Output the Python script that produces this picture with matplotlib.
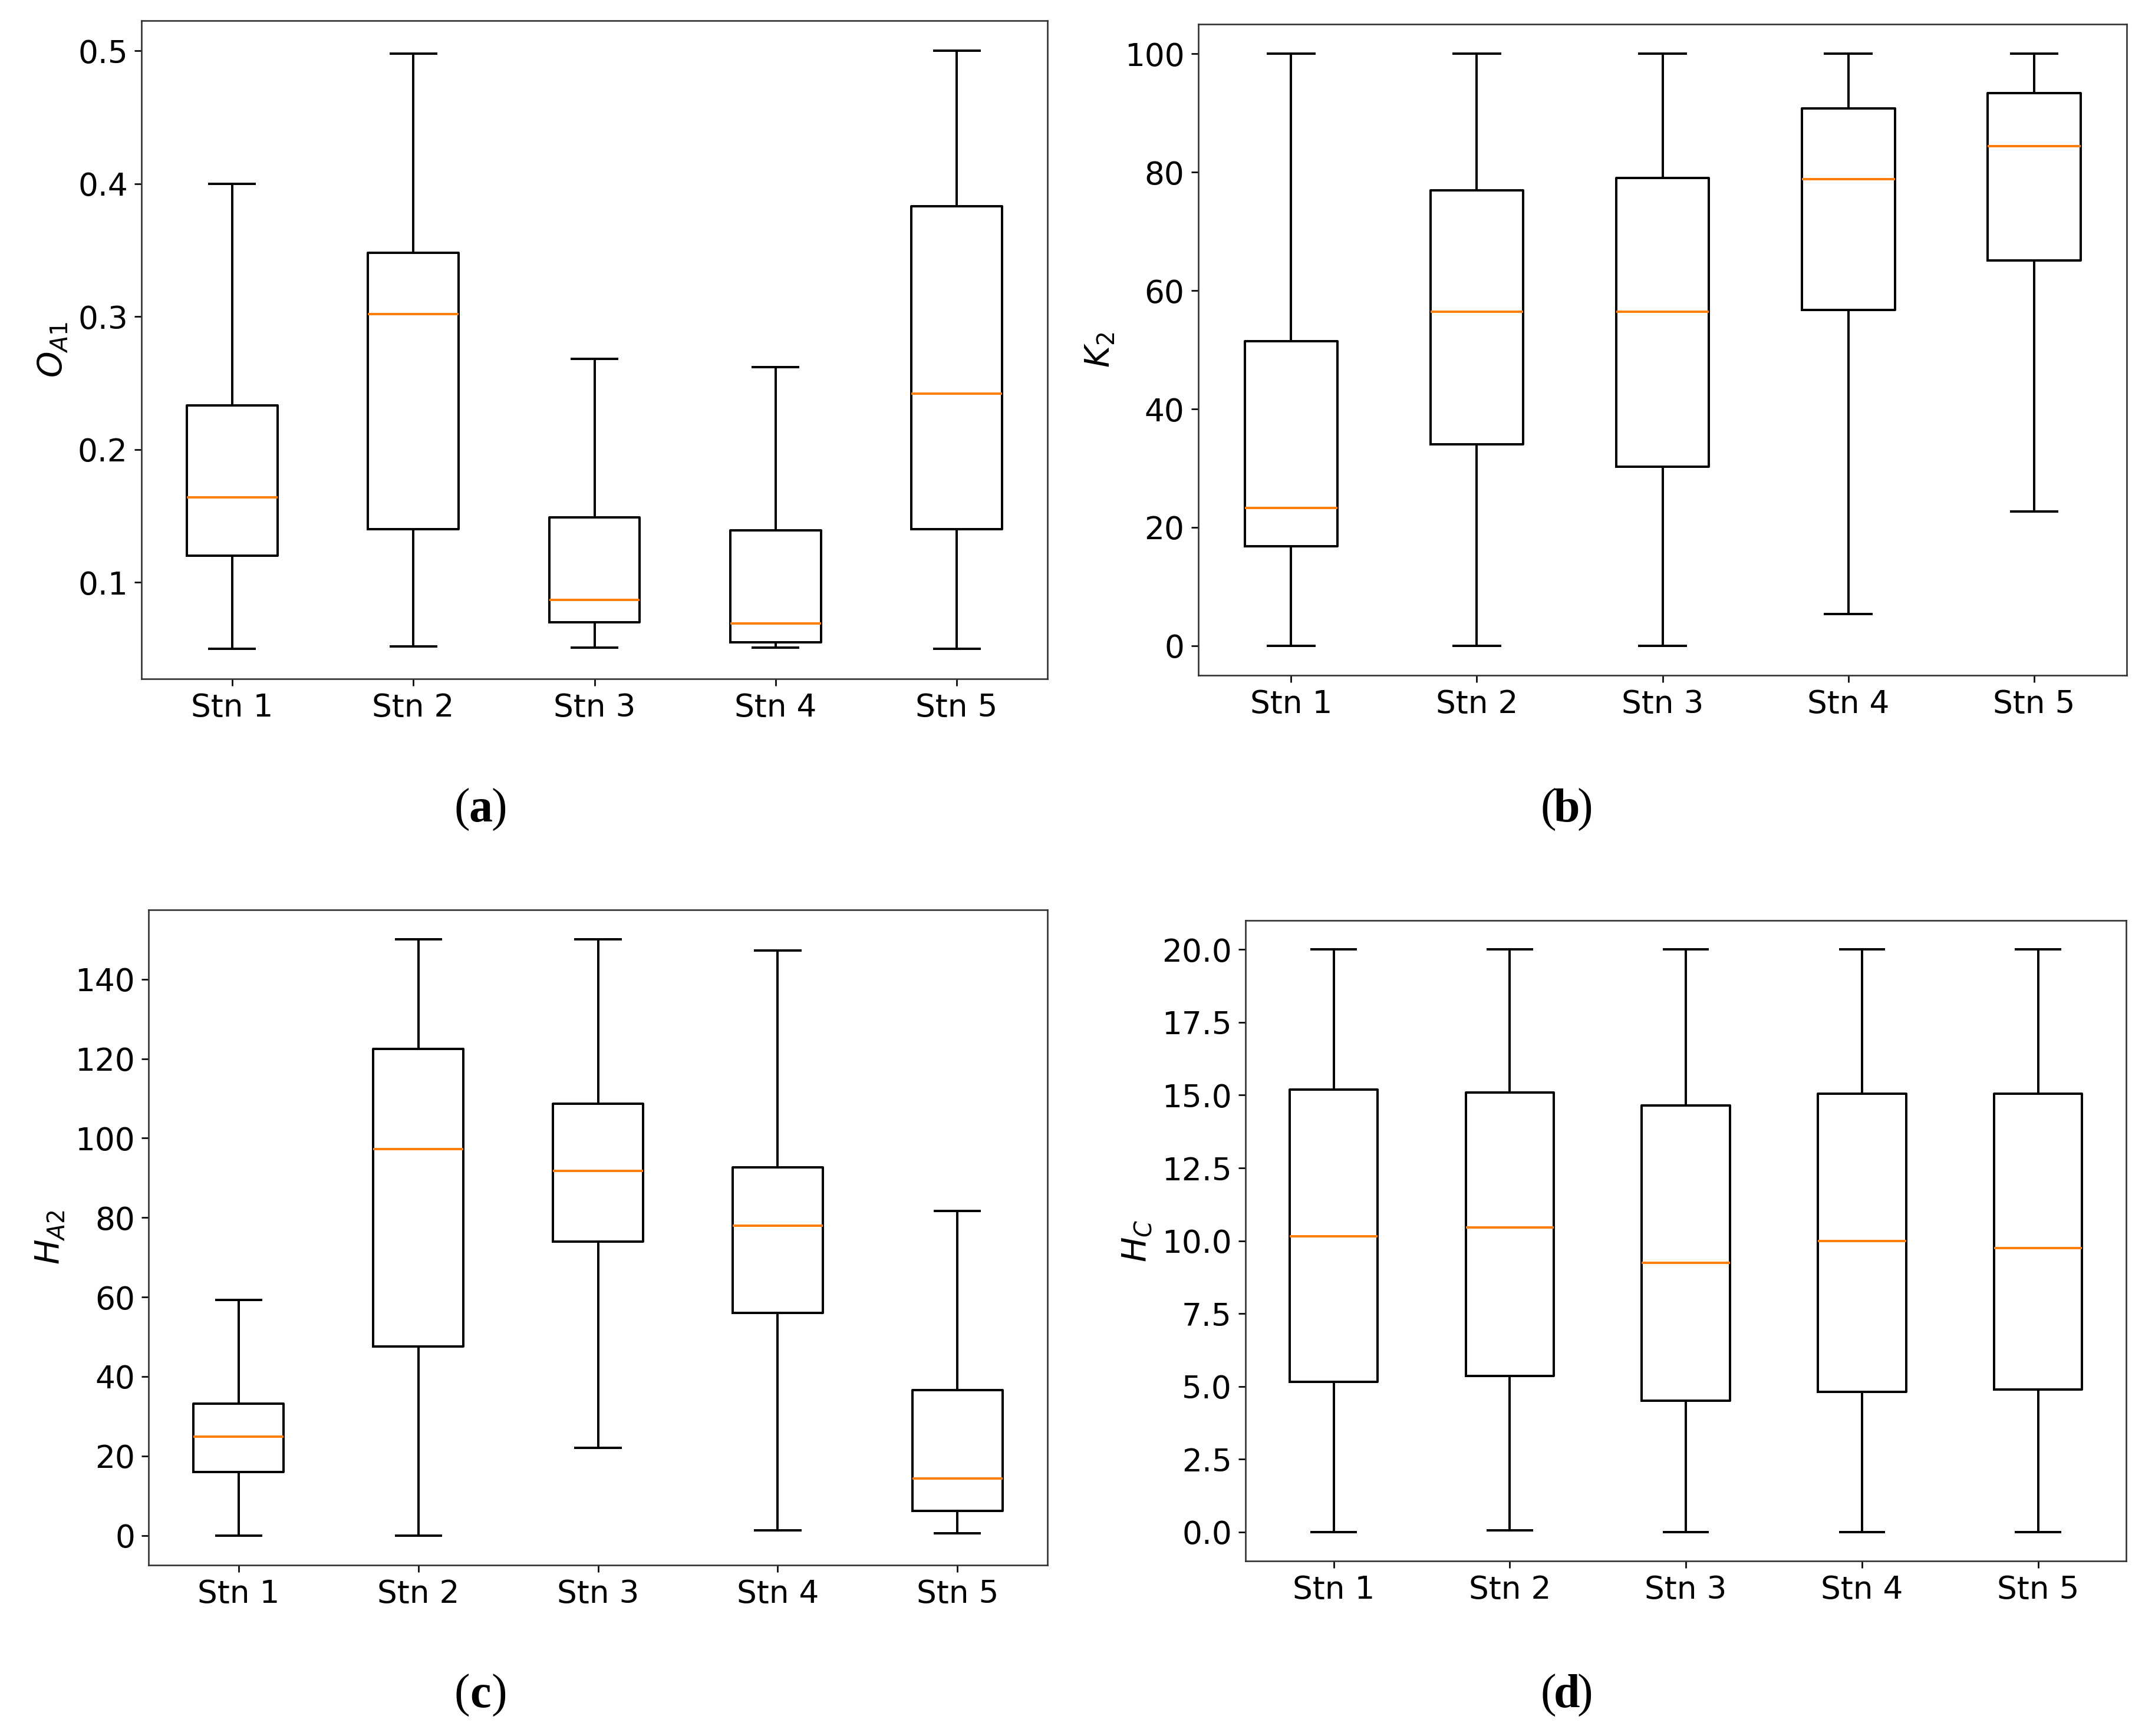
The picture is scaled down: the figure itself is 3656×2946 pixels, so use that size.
import matplotlib.pyplot as plt

stations = ['Stn 1', 'Stn 2', 'Stn 3', 'Stn 4', 'Stn 5']

# five-number summaries per station: whisker low, q1, median, q3, whisker high
oa1_lo = [0.050, 0.052, 0.051, 0.051, 0.050]
oa1_q1 = [0.120, 0.140, 0.070, 0.055, 0.140]
oa1_med = [0.164, 0.302, 0.087, 0.069, 0.242]
oa1_q3 = [0.233, 0.348, 0.149, 0.139, 0.383]
oa1_hi = [0.400, 0.498, 0.268, 0.262, 0.500]

k2_lo = [0.0, 0.0, 0.0, 5.4, 22.7]
k2_q1 = [16.8, 34.0, 30.2, 56.7, 65.1]
k2_med = [23.3, 56.4, 56.4, 78.8, 84.4]
k2_q3 = [51.5, 76.9, 79.0, 90.8, 93.4]
k2_hi = [100.0, 100.0, 100.0, 100.0, 100.0]

ha2_lo = [0.0, 0.0, 22.0, 1.3, 0.5]
ha2_q1 = [16.0, 47.5, 74.0, 56.0, 6.2]
ha2_med = [24.8, 97.2, 91.7, 78.0, 14.3]
ha2_q3 = [33.2, 122.5, 108.7, 92.7, 36.5]
ha2_hi = [59.3, 150.0, 150.0, 147.2, 81.7]

hc_lo = [0.0, 0.05, 0.0, 0.0, 0.0]
hc_q1 = [5.15, 5.35, 4.5, 4.8, 4.9]
hc_med = [10.15, 10.45, 9.25, 10.0, 9.75]
hc_q3 = [15.2, 15.1, 14.65, 15.05, 15.05]
hc_hi = [20.0, 20.0, 20.0, 20.0, 20.0]


def make_stats(lo, q1, med, q3, hi):
    stats = []
    for i in range(len(stations)):
        stats.append({'label': stations[i], 'whislo': lo[i], 'q1': q1[i], 'med': med[i],
                      'q3': q3[i], 'whishi': hi[i], 'fliers': []})
    return stats


plt.rcParams['font.size'] = 16

fig = plt.figure(figsize=(3656 / 240, 2946 / 240), dpi=240)

panels = [
    ([0.0657, 0.609, 0.4203, 0.379], make_stats(oa1_lo, oa1_q1, oa1_med, oa1_q3, oa1_hi), r'$O_{A1}$', 'a', 0.223, 0.521),
    ([0.556, 0.611, 0.431, 0.375], make_stats(k2_lo, k2_q1, k2_med, k2_q3, k2_hi), r'$K_2$', 'b', 0.727, 0.521),
    ([0.069, 0.0984, 0.417, 0.3776], make_stats(ha2_lo, ha2_q1, ha2_med, ha2_q3, ha2_hi), r'$H_{A2}$', 'c', 0.223, 0.011),
    ([0.578, 0.1008, 0.4086, 0.369], make_stats(hc_lo, hc_q1, hc_med, hc_q3, hc_hi), r'$H_C$', 'd', 0.727, 0.011),
]

for rect, stats, ylab, tag, tx, ty in panels:
    ax = fig.add_axes(rect)
    ax.bxp(stats, showfliers=False,
           medianprops={'color': '#ff7f0e', 'linewidth': 1.2},
           boxprops={'linewidth': 1.2}, whiskerprops={'linewidth': 1.2},
           capprops={'linewidth': 1.2})
    ax.set_ylabel(ylab, fontsize=17)
    ax.tick_params(labelsize=16)
    for sp in ax.spines.values():
        sp.set_color('#333333')
    fig.text(tx - 0.0085, ty, '(', family='Liberation Serif', fontsize=24, ha='center', va='bottom')
    fig.text(tx, ty, tag, family='Liberation Serif', fontsize=24, fontweight='bold', ha='center', va='bottom')
    fig.text(tx + 0.0085, ty, ')', family='Liberation Serif', fontsize=24, ha='center', va='bottom')

fig.savefig('out.png', dpi=240)
